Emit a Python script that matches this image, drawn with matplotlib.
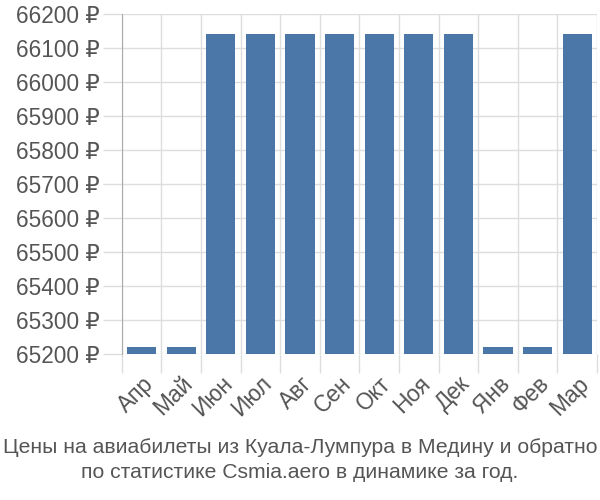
import matplotlib
matplotlib.use("Agg")
import matplotlib.pyplot as plt
import numpy as np
from matplotlib import font_manager

months = ["Апр", "Май", "Июн", "Июл", "Авг", "Сен", "Окт", "Ноя", "Дек", "Янв", "Фев", "Мар"]
prices = [65220, 65220, 66142, 66142, 66142, 66142, 66142, 66142, 66142, 65220, 65220, 66142]
yticks = list(range(65200, 66201, 100))
title = "Цены на авиабилеты из Куала-Лумпура в Медину и обратно\nпо статистике Csmia.aero в динамике за год."

names = sorted({f.name for f in font_manager.fontManager.ttflist})
print(names)

plt.rcParams['font.family'] = ['Liberation Sans', 'DejaVu Sans']
txt = '#555555'
grid = '#dddddd'

fig = plt.figure(figsize=(6, 5), dpi=100)
ax = fig.add_axes([0.203, 0.292, 0.792, 0.68])
x = np.arange(len(months))
ax.bar(x, prices, width=0.74, color='#4a76a8', zorder=3)
ax.set_xlim(-0.5, len(months) - 0.5)
ax.set_ylim(65200, 66200)
ax.set_yticks(yticks)
ax.set_yticklabels([f"{v} ₽" for v in yticks], fontsize=16.3, color=txt)
ax.set_xticks(x)
ax.set_xticklabels(months, rotation=45, ha='right', va='top', rotation_mode='anchor', fontsize=16.3, color=txt)
ax.set_xticks(np.arange(-0.5, len(months)), minor=True)
ax.tick_params(axis='x', which='major', length=0, pad=13)
ax.tick_params(axis='x', which='minor', length=14, color=grid, width=1)
ax.tick_params(axis='y', length=14, color=grid, width=1, pad=2)
ax.grid(True, axis='y', color=grid, lw=1, zorder=0)
ax.grid(True, axis='x', which='minor', color=grid, lw=1, zorder=0)
for s in ['top', 'right', 'bottom']:
    ax.spines[s].set_visible(False)
ax.spines['left'].set_color('#aaaaaa')
ax.spines['left'].set_bounds(65200, 66200)
fig.text(0.5, 0.08, title, ha='center', va='center', fontsize=15.2, color=txt, linespacing=1.4)
fig.savefig("out.png", dpi=100)
